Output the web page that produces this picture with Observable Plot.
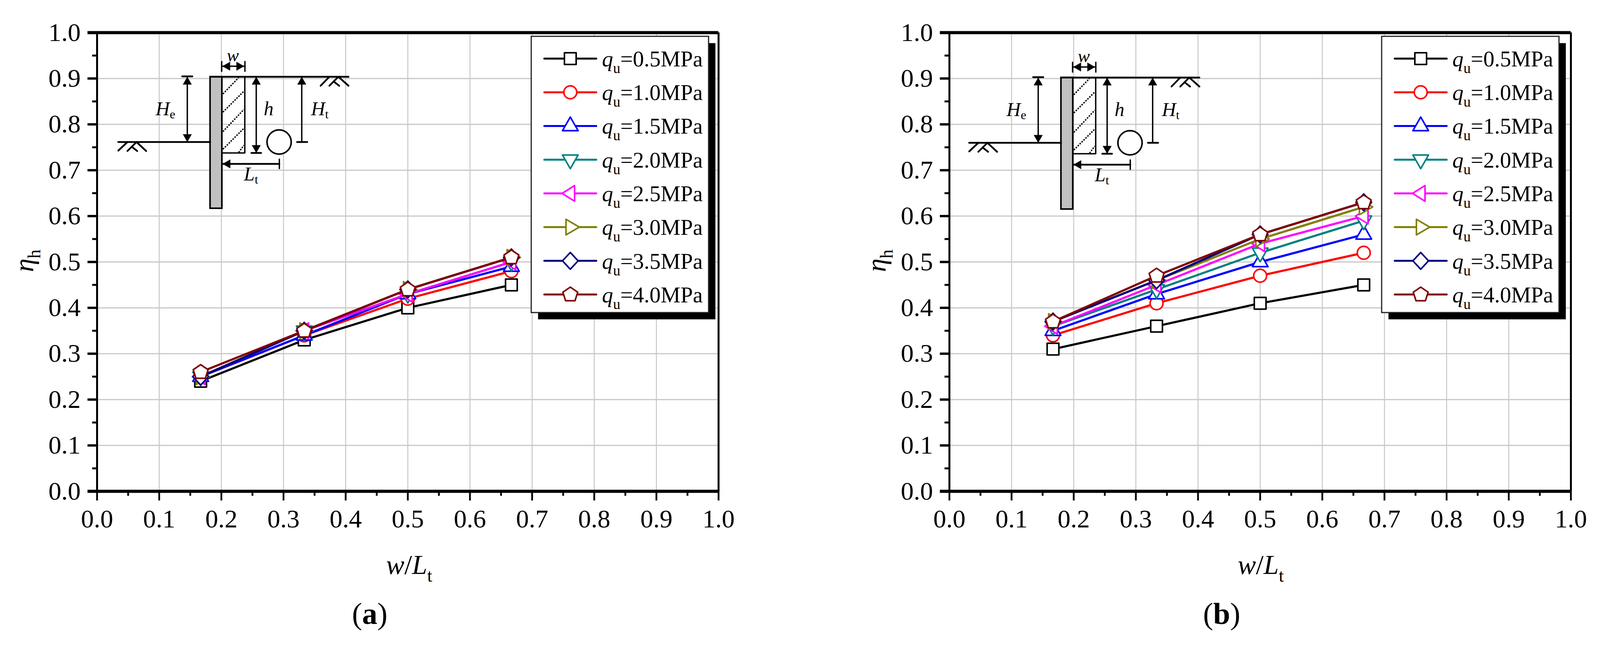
<!DOCTYPE html>
<html>
<head>
<meta charset="utf-8">
<script src="https://cdn.jsdelivr.net/npm/d3@7"></script>
<script src="https://cdn.jsdelivr.net/npm/@observablehq/plot@0.6"></script>
<style>
html,body{margin:0;padding:0;background:#fff;overflow:hidden}
#chart{display:flex;width:4120px;height:1656px}
svg{display:block;flex:none}
</style>
</head>
<body>
<div id="chart"></div>
<script>
// ---- data ----
const ratios = [1/6, 1/3, 1/2, 2/3];
const strengths = ["0.5","1.0","1.5","2.0","2.5","3.0","3.5","4.0"];
const etaA05 = [0.24,0.33,0.40,0.45];
const etaA10 = [0.25,0.34,0.42,0.48];
const etaA15 = [0.25,0.34,0.43,0.49];
const etaA20 = [0.25,0.35,0.43,0.50];
const etaA25 = [0.25,0.35,0.43,0.50];
const etaA30 = [0.25,0.35,0.44,0.51];
const etaA35 = [0.25,0.35,0.44,0.51];
const etaA40 = [0.26,0.35,0.44,0.51];
const etaB05 = [0.31,0.36,0.41,0.45];
const etaB10 = [0.34,0.41,0.47,0.52];
const etaB15 = [0.35,0.43,0.50,0.56];
const etaB20 = [0.36,0.44,0.52,0.59];
const etaB25 = [0.36,0.45,0.54,0.60];
const etaB30 = [0.37,0.46,0.55,0.62];
const etaB35 = [0.37,0.46,0.56,0.63];
const etaB40 = [0.37,0.47,0.56,0.63];
const colors = ["#000000","#ff0000","#0000ff","#008080","#ff00ff","#808000","#000080","#800000"];
const majorTicks = d3.range(0,11).map(d=>d/10);
const minorTicks = d3.range(0,10).map(d=>d/10+0.05);
const seriesA = [etaA05,etaA10,etaA15,etaA20,etaA25,etaA30,etaA35,etaA40];
const seriesB = [etaB05,etaB10,etaB15,etaB20,etaB25,etaB30,etaB35,etaB40];

// ---- marker shapes ----
const poly = pts => ({draw(c){pts.forEach(([x,y],i)=>i?c.lineTo(x,y):c.moveTo(x,y));c.closePath();}});
const symbols = [
  poly([[-15,-15],[15,-15],[15,15],[-15,15]]),
  {draw(c){c.moveTo(16.5,0);c.arc(0,0,16.5,0,2*Math.PI);}},
  poly([[0,-23],[20,12],[-20,12]]),
  poly([[0,23],[20,-12],[-20,-12]]),
  poly([[-21,0],[11,-20],[11,20]]),
  poly([[23,0],[-11,-20],[-11,20]]),
  poly([[0,-21.5],[20,0],[0,21.5],[-20,0]]),
  poly([[0,-19],[19,-6],[12,16],[-12,16],[-19,-6]])
];
const arrowHead = poly([[0,0],[11.5,20],[-11.5,20]]);

// ---- rich text: *italic*, ~subscript~, #bold# become tspans of one text element ----
function rich(rows,{subSize,subDy,...options}){
  return Plot.text(rows,{x:"x",y:"y",text:"t",lineAnchor:"bottom",fontFamily:"Liberation Serif",fill:"#000",...options,
    render(index,scales,values,dims,context,next){
      const g = next(index,scales,values,dims,context);
      d3.select(g).selectAll("text").each(function(){
        const parts = this.textContent.split(/(\*[^*]+\*|~[^~]+~|#[^#]+#)/).filter(Boolean);
        this.textContent = "";
        let off = 0;
        for(const p of parts){
          const ts = d3.select(this).append("tspan");
          let body = p, shift = 0;
          if(p[0]==="*"){body=p.slice(1,-1);ts.attr("font-style","italic");}
          else if(p[0]==="#"){body=p.slice(1,-1);ts.attr("font-weight","bold");}
          else if(p[0]==="~"){body=p.slice(1,-1);ts.attr("font-size",subSize);shift=subDy;}
          if(shift!==off){ts.attr("dy",shift-off);off=shift;}
          ts.text(body);
        }
      });
      return g;
    }});
}

// ---- the inset sketch, in units of the picture measured from the wall head ----
const sketchBold = [
  [[0,0],[354,0]],
  [[-235.5,167],[0,167]],
  [[282.5,23],[305,0]],
  [[305,23],[328,0],[354,23]],
  [[316,12],[330,23]],
  [[-235.3,189],[-212,167]],
  [[-212,190],[-188.7,167],[-164,190]],
  [[-201,179],[-187,190]],
  [[-71.7,-1],[-45.7,-1]],
  [[105.3,195],[130.3,195]],
  [[222.3,167],[248.3,167]],
  [[31.5,223],[177,223]]
];
const sketchThin = [
  [[29.3,-39],[29.3,-14]],
  [[88.8,-39],[88.8,-14]],
  [[29.3,-27],[88.8,-27]],
  [[-58.7,0],[-58.7,167]],
  [[117.8,0],[117.8,195]],
  [[234.3,0],[234.3,167]],
  [[177,211],[177,235]],
  [[30.3,195],[88.5,195],[88.5,0]]
];
const sketchHatch = [
  [[32.5,44],[72.7,2.2]],
  [[32.5,90.5],[86.1,37]],
  [[32.5,140.4],[86.1,83.8]],
  [[32.5,185.4],[86.1,132]],
  [[72.7,193.7],[86.1,175.4]]
];
const sketchHeads = [
  [31,-27,-90],[87,-27,90],
  [-58.7,0,0],[-58.7,167,180],
  [117.8,0,0],[117.8,195,180],
  [234.3,0,0],
  [31.5,223,-90]
];
const sketchLabels = [
  [-139.7,98,"*H*~e~"],
  [137,98,"*h*"],
  [258,98,"*H*~t~"],
  [86,265,"*L*~t~"]
];
const PXX = 1591, PXY = 1174;

function panel({series,marginLeft,marginRight,legendX,wallX,wallY,xLabelX,tag,tagX}){
  const X = u => wallX + u/PXX, Y = v => wallY - v/PXY;
  const flat = segs => segs.flatMap((pts,i)=>pts.map(([u,v])=>({x:X(u),y:Y(v),id:i})));
  const PX = u => legendX + u/PXX;
  const rowY = i => 0.9434 - i*0.07348;
  const marks = [
    Plot.gridX({ticks:majorTicks,stroke:"#c8c8c8",strokeOpacity:1,strokeWidth:2.5}),
    Plot.gridY({ticks:majorTicks,stroke:"#c8c8c8",strokeOpacity:1,strokeWidth:3}),
    Plot.ruleX(minorTicks,{y1:0,y2:0,insetBottom:-12,strokeWidth:4.5}),
    Plot.ruleY(minorTicks,{x1:0,x2:0,insetLeft:-12,strokeWidth:5}),
    Plot.axisX({ticks:majorTicks,tickSize:24,tickPadding:22,tickFormat:d3.format(".1f"),fontSize:66,fontFamily:"Liberation Serif",strokeWidth:4.5,label:null,fill:"#000"}),
    Plot.axisY({ticks:majorTicks,tickSize:24,tickPadding:18,tickFormat:d3.format(".1f"),fontSize:66,fontFamily:"Liberation Serif",strokeWidth:6,label:null,fill:"#000"}),
    Plot.ruleX([0,1],{strokeWidth:5}),
    Plot.ruleY([0,1],{strokeWidth:8,insetLeft:-24}),

    // sketch
    Plot.rect([{x1:X(0),x2:X(30.3),y1:Y(337),y2:Y(0)}],{x1:"x1",x2:"x2",y1:"y1",y2:"y2",fill:"#c0c0c0",stroke:"#000",strokeWidth:4}),
    Plot.line(flat(sketchHatch),{x:"x",y:"y",z:"id",stroke:"#000",strokeWidth:3.5,strokeDasharray:"4 3",strokeLinecap:"butt"}),
    Plot.line(flat(sketchThin),{x:"x",y:"y",z:"id",stroke:"#000",strokeWidth:3.5}),
    Plot.line(flat(sketchBold),{x:"x",y:"y",z:"id",stroke:"#000",strokeWidth:4.5}),
    Plot.dot(sketchHeads,{x:d=>X(d[0]),y:d=>Y(d[1]),rotate:d=>d[2],symbol:arrowHead,r:1,fill:"#000",stroke:"none"}),
    Plot.dot([[176.3,167]],{x:d=>X(d[0]),y:d=>Y(d[1]),r:31,fill:"#fff",stroke:"#000",strokeWidth:4}),
    rich(sketchLabels.map(([u,v,t])=>({x:X(u),y:Y(v),t})),{fontSize:50,subSize:32,subDy:8,textAnchor:"start"}),
    rich([{x:X(58),y:Y(-39.4),t:"*w*"}],{fontSize:46,subSize:30,subDy:8,textAnchor:"middle"}),

    // series
    series.map((vals,i)=>{
      const pts = vals.map((v,k)=>({x:ratios[k],y:v}));
      return [
        Plot.line(pts,{x:"x",y:"y",stroke:colors[i],strokeWidth:5.5,strokeLinejoin:"miter"}),
        Plot.dot(pts,{x:"x",y:"y",symbol:symbols[i],r:1,fill:"#fff",stroke:colors[i],strokeWidth:4,strokeLinejoin:"round"})
      ];
    }),

    // legend
    Plot.rect([{x1:PX(17.5),x2:PX(PXX===0?0:legendW+17.5),y1:0.3893-0.0148,y2:0.9915-0.0148}],{x1:"x1",x2:"x2",y1:"y1",y2:"y2",fill:"#000"}),
    Plot.rect([{x1:PX(0),x2:PX(legendW),y1:0.3893,y2:0.9915}],{x1:"x1",x2:"x2",y1:"y1",y2:"y2",fill:"#fff",stroke:"#222",strokeWidth:3}),
    strengths.map((q,i)=>[
      Plot.line([{x:PX(33),y:rowY(i)},{x:PX(166),y:rowY(i)}],{x:"x",y:"y",stroke:colors[i],strokeWidth:5}),
      Plot.dot([{x:PX(99.5),y:rowY(i)}],{x:"x",y:"y",symbol:symbols[i],r:1,fill:"#fff",stroke:colors[i],strokeWidth:4,strokeLinejoin:"round"})
    ]),
    rich(strengths.map((q,i)=>({x:PX(180.5),y:rowY(i),t:`*q*~u~=${q}MPa`})),{fontSize:57,subSize:37,subDy:17,textAnchor:"start",dy:20}),

    // titles
    rich([{x:xLabelX,y:(1257-1468)/PXY,t:"*w*/*L*~t~"}],{fontSize:70,subSize:46,subDy:20,textAnchor:"middle"}),
    rich([{x:-0.1025,y:0.5026,t:"*η*~h~"}],{fontSize:70,subSize:46,subDy:18,textAnchor:"middle",rotate:-90}),
    rich([{x:tagX,y:(1257-1596)/PXY,t:`(#${tag}#)`}],{fontSize:78,subSize:46,subDy:0,textAnchor:"middle"})
  ];
  return Plot.plot({
    width:2060,height:1656,marginTop:83,marginBottom:399,marginLeft,marginRight,
    x:{domain:[0,1],axis:null},
    y:{domain:[0,1],axis:null},
    style:{background:"#fff",maxWidth:"none",overflow:"visible",color:"#000"},
    marks
  });
}
const legendW = 454;
const chart = document.getElementById("chart");
chart.append(panel({series:seriesA,marginLeft:248,marginRight:221,legendX:0.6989,wallX:(537.7-248)/PXX,wallY:(1257-196)/PXY,xLabelX:(1047-248)/PXX,tag:"a",tagX:(946-248)/PXX}));
chart.append(panel({series:seriesB,marginLeft:370,marginRight:99,legendX:0.6958,wallX:(2716-2430)/PXX,wallY:(1257-198)/PXY,xLabelX:(3227-2430)/PXX,tag:"b",tagX:(3127-2430)/PXX}));
</script>
</body>
</html>
